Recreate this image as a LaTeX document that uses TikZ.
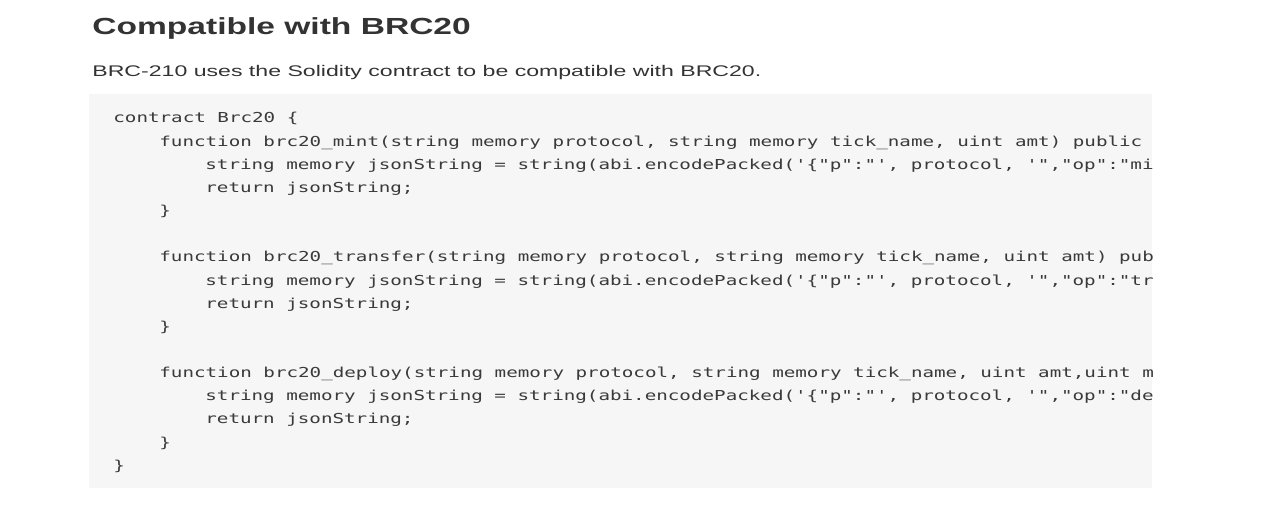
\documentclass[tikz,border=0pt]{standalone}
\usepackage{fontspec}
\setmainfont{Liberation Sans}
\newfontfamily\titlefont{Liberation Sans}[FakeStretch=1.44]
\newfontfamily\bodyfont{Liberation Sans}[FakeStretch=1.5]
\setmonofont{DejaVu Sans Mono}[FakeStretch=1.4]
\usetikzlibrary{positioning}
\definecolor{textgray}{HTML}{333333}
\definecolor{codegray}{HTML}{3A3A3A}
\definecolor{codebg}{HTML}{F6F6F6}

\begin{document}
\begin{tikzpicture}[x=0.5pt,y=-0.5pt]
		% Define node styles
		\tikzstyle{heading} = [anchor=base west, inner sep=0pt, text=textgray, font=\titlefont\bfseries\fontsize{11.65}{14}\selectfont];
		\tikzstyle{para} = [anchor=base west, inner sep=0pt, text=textgray, font=\bodyfont\fontsize{7.7}{9}\selectfont];
		\tikzstyle{code} = [anchor=base west, inner sep=0pt, text=codegray, font=\ttfamily\fontsize{6.86}{8}\selectfont];
		
		\useasboundingbox (0,0) rectangle (1272,513);
		
		% Heading and text
		\node[heading] (title) at (92,34.5) {Compatible with BRC20};
		\node[para] (intro) at (92,77) {BRC-210 uses the Solidity contract to be compatible with BRC20.};
		
		% Code block
		\fill[codebg] (89,94) rectangle (1152,488);
		\begin{scope}
		\clip (89,94) rectangle (1152,488);
		\node[code] (contractline) at (113,123) {contract Brc20 \{};
		
		% brc20_mint
		\node[code] (mintline) at (159,146.15) {function brc20\_mint(string memory protocol, string memory tick\_name, uint amt) public};
		\node[code] (mintbody) at (205,169.3) {string memory jsonString = string(abi.encodePacked('\{"p":"', protocol, '","op":"mi};
		\node[code] (mintret) at (205,192.45) {return jsonString;};
		\node[code] (mintclose) at (159,215.6) {\}};
		
		% brc20_transfer
		\node[code] (transferline) at (159,261.9) {function brc20\_transfer(string memory protocol, string memory tick\_name, uint amt) pub};
		\node[code] (transferbody) at (205,285.05) {string memory jsonString = string(abi.encodePacked('\{"p":"', protocol, '","op":"tr};
		\node[code] (transferret) at (205,308.2) {return jsonString;};
		\node[code] (transferclose) at (159,331.35) {\}};
		
		% brc20_deploy
		\node[code] (deployline) at (159,377.65) {function brc20\_deploy(string memory protocol, string memory tick\_name, uint amt,uint m};
		\node[code] (deploybody) at (205,400.8) {string memory jsonString = string(abi.encodePacked('\{"p":"', protocol, '","op":"de};
		\node[code] (deployret) at (205,423.95) {return jsonString;};
		\node[code] (deployclose) at (159,447.1) {\}};
		
		\node[code] (contractclose) at (113,470.25) {\}};
		\end{scope}
	\end{tikzpicture}
\end{document}
